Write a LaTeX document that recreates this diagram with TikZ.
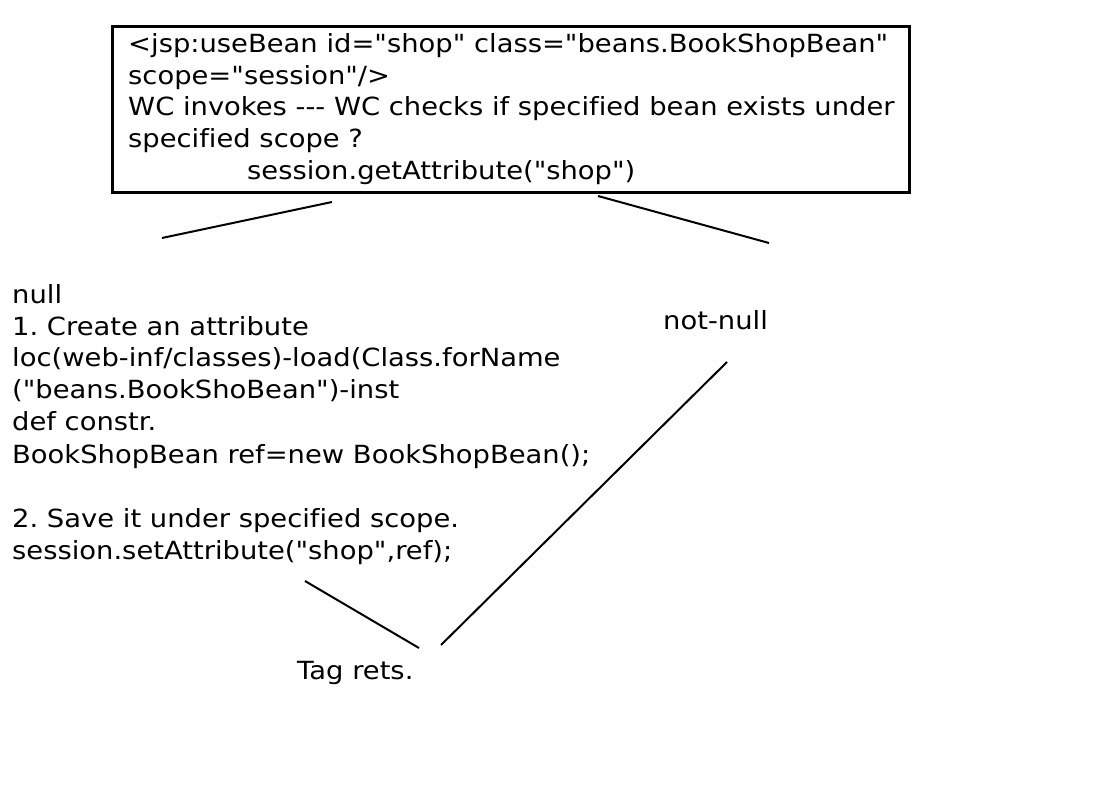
\documentclass[tikz,border=0pt]{standalone}
\usepackage{fontspec}
\setmainfont{DejaVu Sans}[Ligatures={TeXOff,CommonOff},FakeStretch=1.095]
\frenchspacing
\begin{document}
\begin{tikzpicture}[x=1pt,y=-1pt,
  txt/.style={anchor=base west,inner sep=0pt,font=\fontsize{25}{32}\selectfont},
  ln/.style={line width=2pt,black}]
\useasboundingbox[fill=white] (0,0) rectangle (1110,786);
\node[draw,line width=3pt,minimum width=797pt,minimum height=166pt,anchor=north west] (box) at (111,25) {};
\node[txt] (t1) at (128,53) {<jsp:useBean id="shop" class="beans.BookShopBean"};
\node[txt] (t2) at (128,85) {scope="session"/>};
\node[txt] (t3) at (128,116) {WC invokes --- WC checks if specified bean exists under};
\node[txt] (t4) at (128,148) {specified scope ?};
\node[txt] (t5) at (247,180) {session.getAttribute("shop")};
\node[txt] (n0) at (12,303) {null};
\node[txt] (n1) at (12,335) {1. Create an attribute};
\node[txt] (n2) at (12,366) {loc(web-inf/classes)-load(Class.forName};
\node[txt] (n3) at (12,398) {("beans.BookShoBean")-inst};
\node[txt] (n4) at (12,430) {def constr.};
\node[txt] (n5) at (12,463) {BookShopBean ref=new BookShopBean();};
\node[txt] (n6) at (12,527) {2. Save it under specified scope.};
\node[txt] (n7) at (12,559) {session.setAttribute("shop",ref);};
\node[txt] (nn) at (663,329) {not-null};
\node[txt] (tr) at (297,679) {Tag rets.};
\coordinate (a1) at (332,202); \coordinate (a2) at (162,238);
\coordinate (b1) at (598,196); \coordinate (b2) at (769,243);
\coordinate (c1) at (727,362); \coordinate (c2) at (441,645);
\coordinate (d1) at (305,581); \coordinate (d2) at (419,648);
\draw[ln] (a1) -- (a2);
\draw[ln] (b1) -- (b2);
\draw[ln] (c1) -- (c2);
\draw[ln] (d1) -- (d2);
\end{tikzpicture}
\end{document}
